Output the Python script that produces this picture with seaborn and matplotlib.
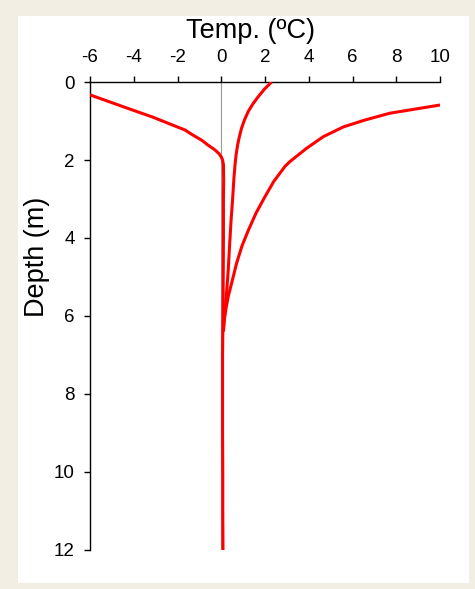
import pandas as pd
import matplotlib.pyplot as plt
import seaborn as sns
from matplotlib.patches import Rectangle

# Temperature profiles (depth in m, temperature in ºC)
winter_depth = [0.33, 0.46, 0.59, 0.74, 0.89, 1.06, 1.23, 1.36, 1.49, 1.62, 1.74, 1.84, 1.92, 2.0,
                2.12, 2.5, 3.0, 4.0, 5.0, 6.0, 7.0, 8.0, 9.0, 10.0, 11.0, 12.0]
winter_temp = [-6.0, -5.35, -4.7, -3.95, -3.18, -2.42, -1.66, -1.3, -0.9, -0.6, -0.29, -0.1, 0.0, 0.06,
               0.1, 0.11, 0.1, 0.1, 0.09, 0.08, 0.06, 0.06, 0.06, 0.07, 0.07, 0.08]

spring_depth = [0.0, 0.18, 0.37, 0.55, 0.75, 0.96, 1.18, 1.4, 1.61, 1.86, 2.12, 2.46, 3.0, 3.54,
                4.2, 4.82, 5.35, 5.85, 6.3]
spring_temp = [2.3, 1.98, 1.7, 1.46, 1.24, 1.07, 0.93, 0.83, 0.75, 0.68, 0.63, 0.58, 0.52, 0.45,
               0.38, 0.32, 0.25, 0.17, 0.1]

summer_depth = [0.59, 0.8, 0.97, 1.15, 1.4, 1.7, 2.04, 2.16, 2.55, 2.94, 3.35, 3.8, 4.2, 4.65,
                5.1, 5.5, 5.8, 6.1, 6.4]
summer_temp = [10.0, 7.71, 6.6, 5.59, 4.67, 3.9, 3.14, 2.92, 2.4, 2.0, 1.6, 1.24, 0.95, 0.7,
               0.5, 0.32, 0.22, 0.14, 0.1]

x_ticks = [-6, -4, -2, 0, 2, 4, 6, 8, 10]
y_ticks = [0, 2, 4, 6, 8, 10, 12]

profiles = pd.concat([
    pd.DataFrame({'depth': winter_depth, 'temp': winter_temp, 'profile': 'winter'}),
    pd.DataFrame({'depth': spring_depth, 'temp': spring_temp, 'profile': 'spring'}),
    pd.DataFrame({'depth': summer_depth, 'temp': summer_temp, 'profile': 'summer'}),
])

sns.set_style('ticks')
plt.rcParams['font.family'] = ['Liberation Sans', 'DejaVu Sans']

fig = plt.figure(figsize=(4.75, 5.89), dpi=100, facecolor='#F2EEE3')
# white panel behind the chart
fig.patches.append(Rectangle((18 / 475, 1 - 583 / 589), 451 / 475, 567 / 589,
                             transform=fig.transFigure, facecolor='white',
                             edgecolor='none', zorder=-5))
ax = fig.add_axes([90 / 475, 1 - 550 / 589, 350 / 475, 468 / 589])
ax.set_facecolor('none')
ax.set_zorder(2)

# zero line
ax.axvline(0, color='#999999', lw=0.8, zorder=1)

sns.lineplot(data=profiles, x='temp', y='depth', hue='profile', sort=False,
             estimator=None, palette=['#FF0000'] * 3, linewidth=2.2,
             legend=False, ax=ax, zorder=3, solid_capstyle='butt',
             solid_joinstyle='round')

ax.set_xlim(-6, 10)
ax.set_ylim(12, 0)
ax.set_xticks(x_ticks)
ax.set_yticks(y_ticks)
ax.set_xticklabels([str(t) for t in x_ticks])
ax.xaxis.tick_top()
ax.tick_params(axis='both', direction='out', length=4, width=1, color='black',
               labelsize=13.5, pad=7, labelcolor='black')
ax.tick_params(axis='x', pad=7.5)
ax.set_xlabel('')
ax.set_ylabel('')

for side in ['right', 'bottom']:
    ax.spines[side].set_visible(False)
for side in ['left', 'top']:
    ax.spines[side].set_color('black')
    ax.spines[side].set_linewidth(1.0)

fig.text(251 / 475, 1 - 37.5 / 589, 'Temp. (ºC)', ha='center', va='baseline',
         fontsize=19.5, color='black')
fig.text(37.5 / 475, 1 - 257 / 589, 'Depth (m)', ha='center', va='center',
         rotation=90, fontsize=19.5, color='black')

fig.savefig('out.png', dpi=100, facecolor=fig.get_facecolor())
